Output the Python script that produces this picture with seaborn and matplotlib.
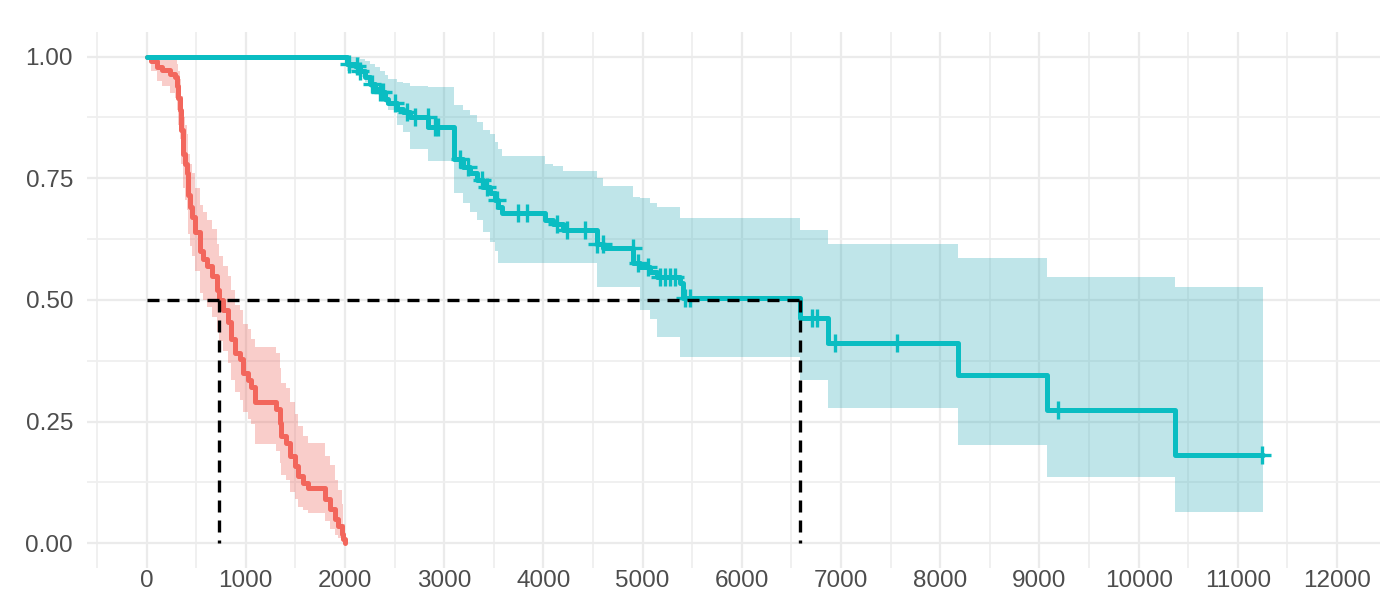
import numpy as np
import pandas as pd
import matplotlib
matplotlib.use("Agg")
import matplotlib.pyplot as plt
from matplotlib.ticker import MultipleLocator, FixedLocator
import seaborn as sns

# ---------------- data ----------------
red_time = [0, 50, 104, 155, 236, 286, 303, 320, 337, 352, 369,
            386, 403, 420, 437, 454, 487, 537, 570, 605, 656, 706, 730, 772,
            823, 856, 890, 940, 974, 1024, 1058, 1091, 1309, 1343,
            1360, 1410, 1445, 1495, 1529, 1579, 1630, 1797, 1848, 1898,
            1932, 1966, 1985, 2000]
red_surv = [1.0, 0.99, 0.978, 0.972, 0.965, 0.958, 0.94, 0.915, 0.89, 0.85, 0.80,
            0.78, 0.76, 0.715, 0.69, 0.67, 0.64, 0.60, 0.585, 0.57, 0.55, 0.52, 0.50, 0.48,
            0.455, 0.42, 0.392, 0.378, 0.35, 0.336, 0.322, 0.29, 0.275, 0.247,
            0.22, 0.206, 0.18, 0.158, 0.138, 0.124, 0.114, 0.09, 0.07, 0.05,
            0.035, 0.02, 0.008, 0.0]
red_lower = [1.0, 0.97, 0.95, 0.94, 0.925, 0.915, 0.89, 0.86, 0.83, 0.78, 0.73,
             0.705, 0.685, 0.635, 0.61, 0.59, 0.56, 0.515, 0.50, 0.485, 0.465, 0.435, 0.415, 0.395,
             0.37, 0.335, 0.31, 0.295, 0.27, 0.255, 0.245, 0.205, 0.19, 0.165,
             0.14, 0.13, 0.105, 0.09, 0.075, 0.068, 0.062, 0.045, 0.03, 0.018,
             0.01, 0.004, 0.0, 0.0]
red_upper = [1.0, 1.0, 1.0, 1.0, 1.0, 0.995, 0.985, 0.97, 0.955, 0.92, 0.875,
             0.86, 0.84, 0.80, 0.78, 0.76, 0.73, 0.695, 0.68, 0.665, 0.645, 0.615, 0.59, 0.57,
             0.55, 0.52, 0.49, 0.48, 0.45, 0.44, 0.42, 0.404, 0.39, 0.36,
             0.33, 0.32, 0.29, 0.265, 0.24, 0.22, 0.206, 0.18, 0.16, 0.13,
             0.11, 0.08, 0.04, 0.0]

teal_time = [0, 2016, 2100, 2150, 2201, 2251, 2302, 2352, 2402, 2433,
             2520, 2587, 2654, 2839, 3095, 3192, 3259, 3327, 3393, 3461,
             3511, 3544, 3579, 4015, 4099, 4200, 4536, 4603, 4905, 4973,
             5074, 5141, 5376, 5409, 6586, 6871, 8181, 9073, 10366, 11256]
teal_surv = [1.0, 0.985, 0.98, 0.971, 0.958, 0.944, 0.934, 0.927, 0.913, 0.904,
             0.893, 0.886, 0.876, 0.855, 0.79, 0.773, 0.76, 0.746, 0.732, 0.719,
             0.705, 0.691, 0.678, 0.664, 0.657, 0.643, 0.616, 0.606, 0.575, 0.568,
             0.558, 0.548, 0.534, 0.503, 0.4625, 0.411, 0.345, 0.2746, 0.182, 0.182]
teal_lower = [1.0, 0.97, 0.965, 0.958, 0.948, 0.935, 0.925, 0.915, 0.905, 0.89,
              0.86, 0.845, 0.81, 0.785, 0.72, 0.70, 0.68, 0.665, 0.64, 0.62,
              0.60, 0.575, 0.575, 0.575, 0.575, 0.575, 0.527, 0.527, 0.527, 0.479,
              0.46, 0.424, 0.383, 0.383, 0.336, 0.277, 0.202, 0.137, 0.065, 0.065]
teal_upper = [1.0, 1.0, 1.0, 0.995, 0.99, 0.985, 0.978, 0.971, 0.962, 0.955,
              0.948, 0.945, 0.94, 0.938, 0.90, 0.89, 0.88, 0.865, 0.85, 0.84,
              0.825, 0.81, 0.795, 0.78, 0.775, 0.765, 0.75, 0.735, 0.712, 0.71,
              0.70, 0.69, 0.668, 0.668, 0.643, 0.616, 0.586, 0.547, 0.526, 0.526]
teal_censor = [2039, 2120, 2150, 2271, 2353, 2384, 2503, 2621, 2704, 2836,
               2906, 2936, 3158, 3239, 3380, 3430, 3531, 3743, 3833, 4136,
               4237, 4418, 4539, 4600, 4902, 4952, 5053, 5174, 5225, 5275,
               5325, 5426, 5477, 6707, 6757, 6939, 7564, 9187, 11243]

median_time = [730, 6586]
median_level = 0.5

x_ticks = list(range(0, 12001, 1000))
y_ticks = [0.0, 0.25, 0.5, 0.75, 1.0]
y_labels = ["0.00", "0.25", "0.50", "0.75", "1.00"]

red_color = "#F2665C"
teal_color = "#0ABDC2"
red_band = "#EC5A52"
teal_band = "#2DACB9"

# ---------------- style ----------------
sns.set_theme(style="white")
plt.rcParams["font.family"] = ["Liberation Sans", "DejaVu Sans"]

fig = plt.figure(figsize=(13.8, 5.98), dpi=100)
ax = fig.add_axes([87 / 1380, 30.4 / 598, 1309.6 / 1380, 535.3 / 598])
ax.set_facecolor("white")

# confidence bands
ax.fill_between(red_time, red_lower, red_upper, step="post",
                color=red_band, alpha=0.3, linewidth=0, zorder=2)
ax.fill_between(teal_time, teal_lower, teal_upper, step="post",
                color=teal_band, alpha=0.3, linewidth=0, zorder=2)

# survival curves
df = pd.concat([
    pd.DataFrame({"time": red_time, "surv": red_surv, "group": "g1"}),
    pd.DataFrame({"time": teal_time, "surv": teal_surv, "group": "g2"}),
], ignore_index=True)
sns.lineplot(data=df, x="time", y="surv", hue="group",
             palette={"g1": red_color, "g2": teal_color},
             estimator=None, sort=False, drawstyle="steps-post",
             linewidth=3.6, legend=False, ax=ax, zorder=3)

# censor marks
tt = np.array(teal_time)
idx = np.searchsorted(tt, np.array(teal_censor), side="right") - 1
cens_y = np.array(teal_surv)[idx]
sns.scatterplot(x=teal_censor, y=cens_y, marker="+", s=150, color=teal_color,
                linewidth=2.4, ax=ax, zorder=4, legend=False)

# median lines
dash = (0, (3.6, 2.4))
ax.plot([0, max(median_time)], [median_level, median_level], color="black",
        linestyle=dash, linewidth=2.4, zorder=5)
for m in median_time:
    ax.plot([m, m], [median_level, 0], color="black",
            linestyle=dash, linewidth=2.4, zorder=5)

# axes
ax.set_xlim(-600, 12600)
ax.set_ylim(-0.05, 1.05)
ax.xaxis.set_major_locator(FixedLocator(x_ticks))
ax.xaxis.set_minor_locator(MultipleLocator(500))
ax.yaxis.set_major_locator(FixedLocator(y_ticks))
ax.yaxis.set_minor_locator(MultipleLocator(0.125))
ax.set_xticklabels([str(v) for v in x_ticks])
ax.set_yticklabels(y_labels)
ax.grid(which="major", color="#EBEBEB", linewidth=1.6, zorder=0)
ax.grid(which="minor", color="#EFEFEF", linewidth=1.3, zorder=0)
ax.set_axisbelow(True)
for s in ax.spines.values():
    s.set_visible(False)
ax.tick_params(axis="both", which="both", length=0, labelsize=17.5,
               labelcolor="#4D4D4D")
ax.tick_params(axis="y", pad=10)
ax.tick_params(axis="x", pad=1.5)
ax.set_xlabel("")
ax.set_ylabel("")

fig.savefig("out.png", dpi=100, facecolor="white")
